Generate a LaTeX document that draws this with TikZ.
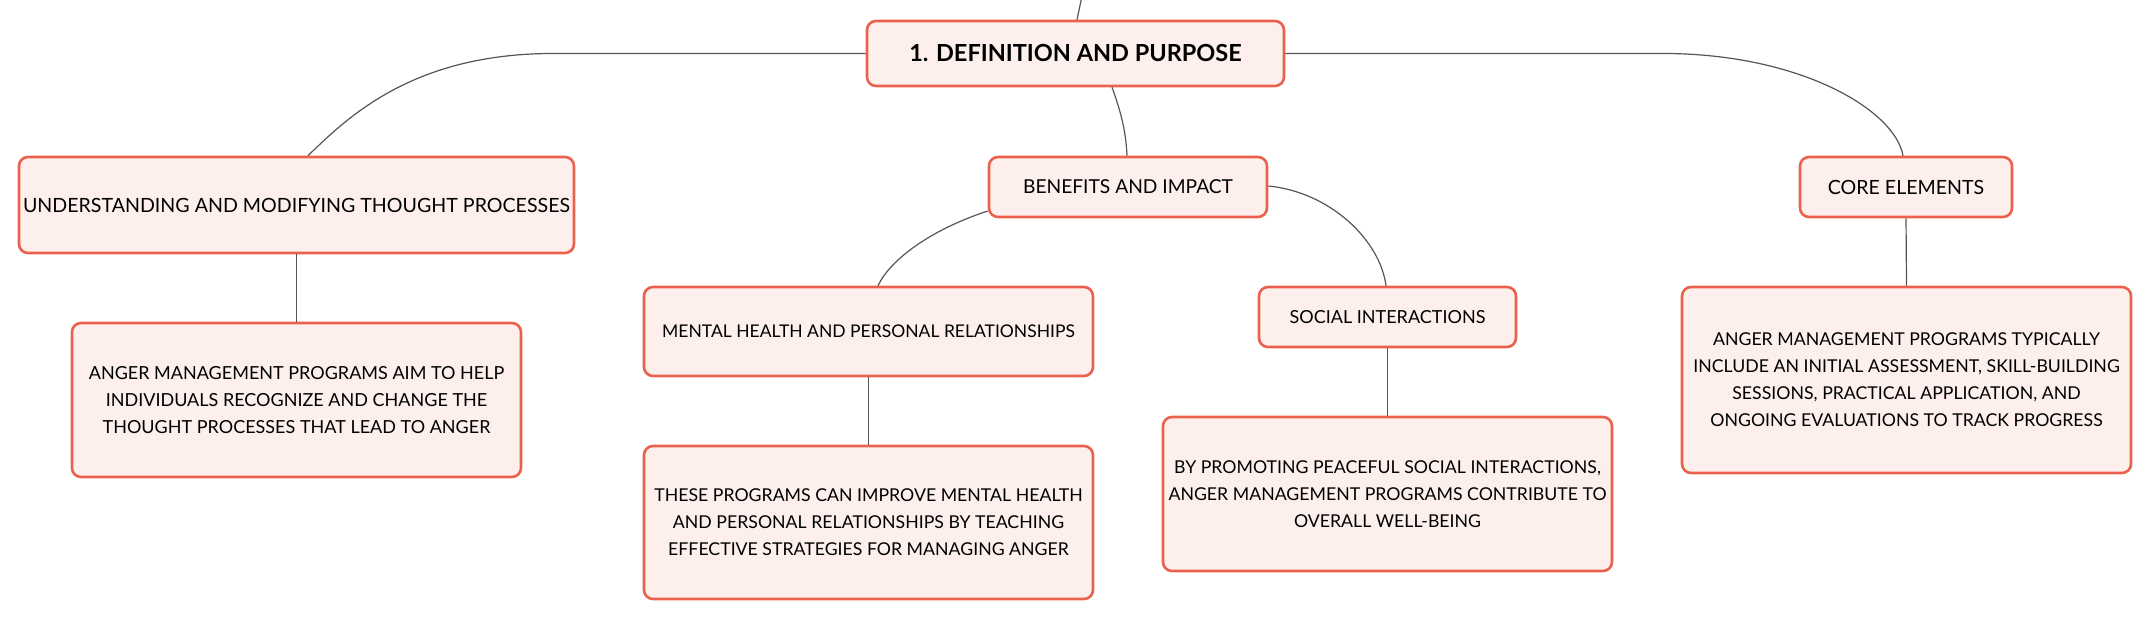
\documentclass[tikz,border=0pt]{standalone}
\usepackage{fontspec}
\setmainfont{Lato}
\definecolor{boxborder}{RGB}{234,98,78}
\definecolor{boxfill}{RGB}{253,240,236}
\definecolor{linkgray}{RGB}{85,85,85}
\tikzset{
  topicbox/.style={draw=boxborder, fill=boxfill, line width=2.6pt, rounded corners=9pt,
    inner sep=0pt, align=center, text=black, font=\fontsize{17.7}{27}\selectfont},
  fs/.style={font=\fontsize{#1}{27}\selectfont},
  rootbox/.style={topicbox, font=\bfseries\fontsize{23.5}{27}\selectfont},
  link/.style={draw=linkgray, line width=1.2pt}
}
\begin{document}
\begin{tikzpicture}[x=1pt,y=-1pt]
\useasboundingbox (0,0) rectangle (2151,620);
% nodes
\node[rootbox, minimum width=417pt, minimum height=65pt] (root) at (1075.5,53.5) {1. DEFINITION AND PURPOSE};
\node[topicbox, fs=19.6, minimum width=555pt, minimum height=96pt] (und) at (296.5,205) {UNDERSTANDING AND MODIFYING THOUGHT PROCESSES};
\node[topicbox, fs=18, minimum width=449pt, minimum height=154pt] (undD) at (296.5,400) {ANGER MANAGEMENT PROGRAMS AIM TO HELP\\INDIVIDUALS RECOGNIZE AND CHANGE THE\\THOUGHT PROCESSES THAT LEAD TO ANGER};
\node[topicbox, fs=19.2, minimum width=278pt, minimum height=60pt] (ben) at (1128,187) {BENEFITS AND IMPACT};
\node[topicbox, fs=17.5, minimum width=449pt, minimum height=89pt] (men) at (868.5,331.5) {MENTAL HEALTH AND PERSONAL RELATIONSHIPS};
\node[topicbox, minimum width=449pt, minimum height=153pt] (menD) at (868.5,522.5) {THESE PROGRAMS CAN IMPROVE MENTAL HEALTH\\AND PERSONAL RELATIONSHIPS BY TEACHING\\EFFECTIVE STRATEGIES FOR MANAGING ANGER};
\node[topicbox, fs=18, minimum width=257pt, minimum height=60pt] (soc) at (1387.5,317) {SOCIAL INTERACTIONS};
\node[topicbox, minimum width=449pt, minimum height=154pt] (socD) at (1387.5,494) {BY PROMOTING PEACEFUL SOCIAL INTERACTIONS,\\ANGER MANAGEMENT PROGRAMS CONTRIBUTE TO\\OVERALL WELL-BEING};
\node[topicbox, fs=19.6, minimum width=212pt, minimum height=60pt] (core) at (1906,187) {CORE ELEMENTS};
\node[topicbox, minimum width=449pt, minimum height=186pt] (coreD) at (1906.5,380) {ANGER MANAGEMENT PROGRAMS TYPICALLY\\INCLUDE AN INITIAL ASSESSMENT, SKILL-BUILDING\\SESSIONS, PRACTICAL APPLICATION, AND\\ONGOING EVALUATIONS TO TRACK PROGRESS};
% free ends
\coordinate (topin) at (1082,-4);
\coordinate (lbend) at (553,53.5);
\coordinate (rbend) at (1663,53.5);
% connectors
\path[link] (topin) .. controls (1080,8) .. ([xshift=1.5pt]root.north);
\path[link] (root.west) -- (lbend) .. controls (413,53.5) and (348,117) .. ([xshift=11.5pt]und.north);
\path[link] (root.east) -- (rbend) .. controls (1800,53.5) and (1895,110) .. ([xshift=-3pt]core.north);
\path[link] ([xshift=36.5pt]root.south) .. controls (1121,112) and (1126,132) .. ([xshift=-1pt]ben.north);
\path[link] ([yshift=-24pt]ben.west) .. controls (930,230) and (890,260) .. ([xshift=9.5pt]men.north);
\path[link] ([yshift=1pt]ben.east) .. controls (1330,192) and (1380,240) .. ([xshift=-1.5pt]soc.north);
\path[link] (und.south) -- (undD.north);
\path[link] (men.south) -- (menD.north);
\path[link] (soc.south) -- (socD.north);
\path[link] (core.south) -- (coreD.north);
\end{tikzpicture}
\end{document}
